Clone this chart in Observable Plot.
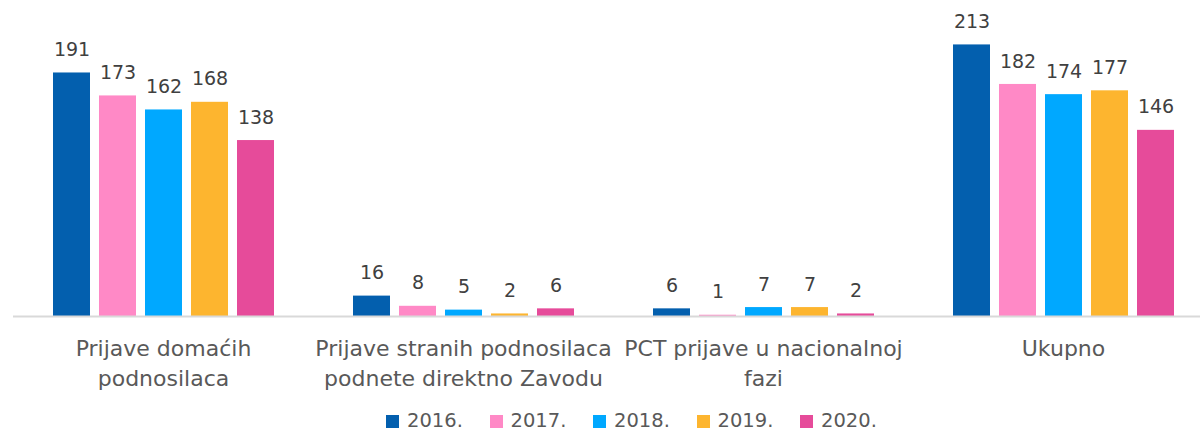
<!DOCTYPE html>
<html>
<head>
<meta charset="utf-8">
<script src="https://cdn.jsdelivr.net/npm/d3@7"></script>
<script src="https://cdn.jsdelivr.net/npm/@observablehq/plot@0.6"></script>
<style>
  html, body { margin: 0; padding: 0; background: #fff; overflow: hidden; }
  #chart svg { display: block; }
  #legend { display: flex; align-items: center; height: 20px; padding-top: 4px; padding-left: 386px;
    font-family: "DejaVu Sans", sans-serif; font-size: 19.5px; line-height: 20px; color: #595959; }
  #legend .item { display: flex; align-items: center; width: 103.5px; white-space: nowrap; }
  #legend .sw { width: 13px; height: 13px; margin-right: 8px; flex: none; }
</style>
</head>
<body>
<div id="chart"></div>
<div id="legend"></div>
<script>
const categories = ["Prijave domaćih podnosilaca", "Prijave stranih podnosilaca podnete direktno Zavodu", "PCT prijave u nacionalnoj fazi", "Ukupno"];
const categoryLabels = ["Prijave domaćih\npodnosilaca", "Prijave stranih podnosilaca\npodnete direktno Zavodu", "PCT prijave u nacionalnoj\nfazi", "Ukupno"];
const years = ["2016.", "2017.", "2018.", "2019.", "2020."];
const colors = ["#035FAE", "#FF89C6", "#00A8FF", "#FDB52F", "#E64B9A"];
const v2016 = [191, 16, 6, 213];
const v2017 = [173, 8, 1, 182];
const v2018 = [162, 5, 7, 174];
const v2019 = [168, 2, 7, 177];
const v2020 = [138, 6, 2, 146];

const series = [v2016, v2017, v2018, v2019, v2020];
const data = [];
categories.forEach((c, i) => {
  years.forEach((y, j) => data.push({category: c, year: y, value: series[j][i]}));
});
const labelOf = new Map(categories.map((c, i) => [c, categoryLabels[i]]));

const chart = Plot.plot({
  width: 1200,
  height: 407,
  marginTop: 10,
  marginBottom: 91,
  marginLeft: 13,
  marginRight: -13,
  style: {fontFamily: "DejaVu Sans, sans-serif", background: "#fff"},
  fx: {domain: categories, paddingInner: 0, paddingOuter: 0},
  x: {domain: years, paddingInner: 0.2, paddingOuter: 0.86, axis: null},
  y: {domain: [0, 240], axis: null},
  color: {domain: years, range: colors},
  marks: [
    Plot.barY(data, {fx: "category", x: "year", y: "value", fill: "year"}),
    Plot.ruleY([0], {stroke: "#d9d9d9", strokeWidth: 2}),
    Plot.text(data, {fx: "category", x: "year", y: "value", text: d => String(d.value), dy: -23, fontSize: 19, fill: "#404040"}),
    Plot.axisFx({anchor: "bottom", tickSize: 0, tickPadding: 18, fontSize: 22, lineHeight: 1.37, fill: "#595959", label: null, tickFormat: d => labelOf.get(d)})
  ]
});
document.getElementById("chart").appendChild(chart);

const legend = document.getElementById("legend");
years.forEach((y, i) => {
  const item = document.createElement("div");
  item.className = "item";
  const sw = document.createElement("span");
  sw.className = "sw";
  sw.style.background = colors[i];
  const t = document.createElement("span");
  t.textContent = y;
  item.appendChild(sw);
  item.appendChild(t);
  legend.appendChild(item);
});
</script>
</body>
</html>
